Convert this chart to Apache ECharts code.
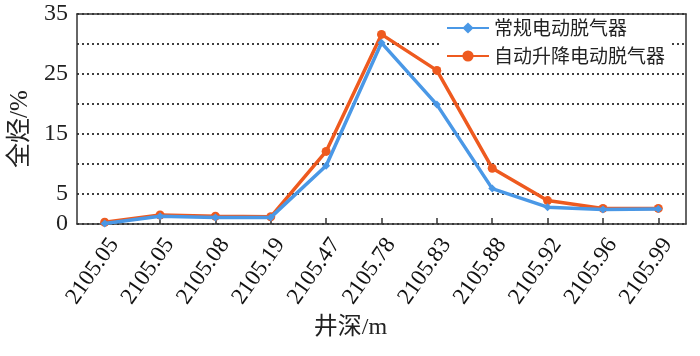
<!DOCTYPE html>
<html>
<head>
<meta charset="utf-8">
<script src="https://cdn.jsdelivr.net/npm/echarts@6/dist/echarts.min.js"></script>
<style>
html,body{margin:0;padding:0;background:#fff;}
#c{width:700px;height:356px;}
</style>
</head>
<body>
<div id="c"></div>
<script>
var depths = ['2105.05','2105.05','2105.08','2105.19','2105.47','2105.78','2105.83','2105.88','2105.92','2105.96','2105.99'];
var conventional = [0.1, 1.3, 1.1, 1.1, 9.7, 30.2, 19.9, 5.9, 2.8, 2.4, 2.5];
var autoLift = [0.3, 1.5, 1.3, 1.2, 12.1, 31.6, 25.6, 9.3, 3.9, 2.6, 2.6];
var yTickLabels = [0, 5, 15, 25, 35];
var seriesNames = ['常规电动脱气器', '自动升降电动脱气器'];

var FONT = "'Liberation Serif', 'Noto Sans CJK SC', serif";
var FRAME = {show: true, onZero: false, lineStyle: {color: '#333', width: 1.5}};
var chart = echarts.init(document.getElementById('c'));
chart.setOption({
  animation: false,
  backgroundColor: '#fff',
  grid: {left: 72, top: 14, width: 614, height: 210, show: false},
  legend: {
    orient: 'vertical', left: 441, top: 16,
    data: seriesNames,
    backgroundColor: '#fff',
    padding: [2, 5, 4, 5],
    itemWidth: 42, itemHeight: 14, itemGap: 8,
    textStyle: {fontFamily: "'Noto Sans CJK SC', sans-serif", fontSize: 19, color: '#222', lineHeight: 20}
  },
  xAxis: [{
    type: 'category', data: depths, boundaryGap: true,
    name: '井深/m', nameLocation: 'middle', nameGap: 88,
    nameTextStyle: {fontFamily: FONT, fontSize: 24, color: '#222', padding: [0, 62, 0, 0]},
    axisLine: FRAME,
    axisTick: {show: true, inside: true, alignWithLabel: true, length: 6, lineStyle: {color: '#333', width: 1.5}},
    axisLabel: {rotate: 55, fontFamily: FONT, fontSize: 23, color: '#111', margin: 10, interval: 0, verticalAlign: 'top'},
    splitLine: {show: false}
  }, {
    type: 'category', data: depths, position: 'top',
    axisLine: FRAME, axisTick: {show: false}, axisLabel: {show: false}, splitLine: {show: false}
  }],
  yAxis: [{
    type: 'value', min: 0, max: 35, interval: 5,
    name: '全烃/%', nameLocation: 'middle', nameGap: 44,
    nameTextStyle: {fontFamily: FONT, fontSize: 25, color: '#222', padding: [0, 20, 0, 0]},
    axisLine: FRAME,
    axisTick: {show: false},
    axisLabel: {fontFamily: FONT, fontSize: 24, color: '#222', margin: 9,
      formatter: function (v) { return yTickLabels.indexOf(v) >= 0 ? String(v) : ''; }},
    splitLine: {show: true, lineStyle: {color: '#000', width: 1.5, type: [2, 3]}}
  }, {
    type: 'value', min: 0, max: 35, interval: 5, position: 'right',
    axisLine: FRAME, axisTick: {show: false}, axisLabel: {show: false}, splitLine: {show: false}
  }],
  series: [
    {name: seriesNames[1], type: 'line', data: autoLift, symbol: 'circle', symbolSize: 9,
      lineStyle: {color: '#EE5A1F', width: 3.5}, itemStyle: {color: '#EE5A1F'}, z: 2},
    {name: seriesNames[0], type: 'line', data: conventional, symbol: 'diamond', symbolSize: 8,
      lineStyle: {color: '#4A98E6', width: 3.5}, itemStyle: {color: '#4A98E6'}, z: 3}
  ]
});
</script>
</body>
</html>
